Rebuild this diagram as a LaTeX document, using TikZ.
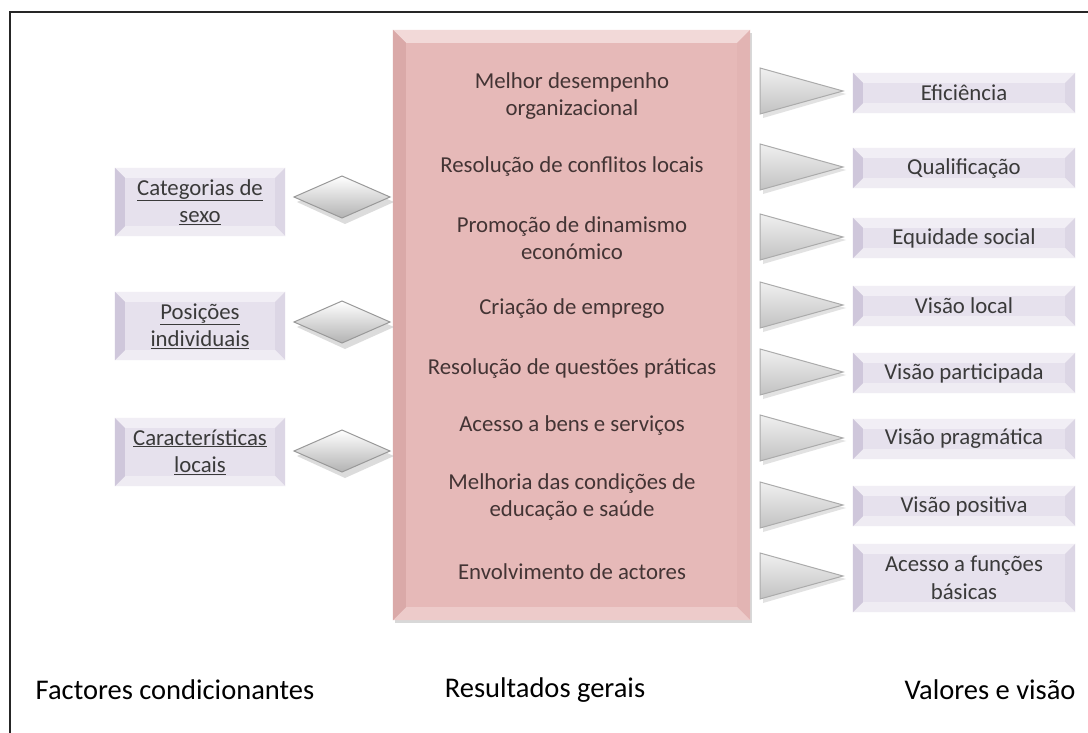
\documentclass[tikz,border=0pt]{standalone}
\usepackage{fontspec}
\setmainfont{Carlito}
\usetikzlibrary{shadows,calc}
\definecolor{pinkbase}{HTML}{E6B9B8}
\definecolor{pinktop}{HTML}{F2D9D8}
\definecolor{pinkleft}{HTML}{DAA9A8}
\definecolor{pinkright}{HTML}{E2B4B3}
\definecolor{pinkbot}{HTML}{EDCBCA}
\definecolor{lavbase}{HTML}{E6E1ED}
\definecolor{lavtop}{HTML}{F1EEF5}
\definecolor{lavleft}{HTML}{CFC7DB}
\definecolor{lavright}{HTML}{DCD6E5}
\definecolor{lavbot}{HTML}{EFECF3}
\definecolor{midtext}{HTML}{433434}
\definecolor{boxtext}{HTML}{3A3A3A}
\newcommand\bevel[6]{%
  \fill[#3] (#1.north west) -- (#1.north east) -- ([xshift=-#2pt,yshift=-#2pt]#1.north east) -- ([xshift=#2pt,yshift=-#2pt]#1.north west) -- cycle;
  \fill[#4] (#1.north east) -- (#1.south east) -- ([xshift=-#2pt,yshift=#2pt]#1.south east) -- ([xshift=-#2pt,yshift=-#2pt]#1.north east) -- cycle;
  \fill[#5] (#1.south east) -- (#1.south west) -- ([xshift=#2pt,yshift=#2pt]#1.south west) -- ([xshift=-#2pt,yshift=#2pt]#1.south east) -- cycle;
  \fill[#6] (#1.south west) -- (#1.north west) -- ([xshift=#2pt,yshift=-#2pt]#1.north west) -- ([xshift=#2pt,yshift=#2pt]#1.south west) -- cycle;
}
\newcommand\diam[1]{%
  \fill[black!30,opacity=0.45] ($(#1)+(-45,5)$) -- ($(#1)+(3,-16)$) -- ($(#1)+(52,5)$) -- ($(#1)+(3,27)$) -- cycle;
  \shade[top color=white, bottom color=black!30, draw=black!40, line width=1pt]
    ($(#1)+(-48,0)$) -- ($(#1)+(0,-21)$) -- ($(#1)+(48,0)$) -- ($(#1)+(0,21)$) -- cycle;
}
\newcommand\tri[1]{%
  \fill[black!25,opacity=0.45] ($(#1)+(-38,-20)$) -- ($(#1)+(45,3)$) -- ($(#1)+(-38,27)$) -- cycle;
  \shade[top color=black!6, bottom color=black!24, draw=black!33, line width=1pt]
    ($(#1)+(-41,-23)$) -- ($(#1)+(42,0)$) -- ($(#1)+(-41,23)$) -- cycle;
}
\begin{document}
\begin{tikzpicture}[x=1pt,y=-1pt,
  font=\fontsize{22.8}{27.5}\selectfont,
  midbox/.style={rectangle, fill=pinkbase, inner sep=0pt, minimum width=357, minimum height=590,
    drop shadow={shadow xshift=2pt, shadow yshift=-3pt, opacity=0.3}},
  lbox/.style={rectangle, fill=lavbase, inner sep=0pt, minimum width=170, minimum height=68},
  rbox/.style={rectangle, fill=lavbase, inner sep=0pt, minimum width=222, minimum height=40},
  midtxt/.style={align=center, text=midtext, inner sep=0pt},
  boxtxt/.style={align=center, text=boxtext, inner sep=0pt},
  bottom/.style={font=\fontsize{28.5}{33}\selectfont, text=black, inner sep=0pt}]
\useasboundingbox (0,0) rectangle (1088,733);
\fill[white] (0,0) rectangle (1088,733);
\draw[line width=2pt, black!85] (10,733) -- (10,12) -- (1088,12);

% central box
\node[midbox] (mid) at (571.5,325) {};
\bevel{mid}{13}{pinktop}{pinkright}{pinkbot}{pinkleft}
\node[midtxt] (m1) at (572,96) {Melhor desempenho\\organizacional};
\node[midtxt] (m2) at (572,167) {Resolução de conflitos locais};
\node[midtxt] (m3) at (572,238) {Promoção de dinamismo\\económico};
\node[midtxt] (m4) at (572,309) {Criação de emprego};
\node[midtxt] (m5) at (572,368) {Resolução de questões práticas};
\node[midtxt] (m6) at (572,425) {Acesso a bens e serviços};
\node[midtxt] (m7) at (572,497) {Melhoria das condições de\\educação e saúde};
\node[midtxt] (m8) at (572,572) {Envolvimento de actores};

% left boxes
\foreach \n/\y in {l1/202, l2/326, l3/452}{
  \node[lbox] (\n) at (200,\y) {};
  \bevel{\n}{10}{lavtop}{lavright}{lavbot}{lavleft}
}
\node[boxtxt] (lt1) at (l1) {\underline{Categorias de}\\\underline{sexo}};
\node[boxtxt] (lt2) at (l2) {\underline{Posições}\\\underline{individuais}};
\node[boxtxt] (lt3) at (l3) {\underline{Características}\\\underline{locais}};

% diamonds
\coordinate (d1) at (342,197);
\coordinate (d2) at (342,322);
\coordinate (d3) at (342,451);
\diam{d1}\diam{d2}\diam{d3}

% right boxes
\foreach \n/\y in {r1/93, r2/168, r3/238, r4/306, r5/373, r6/439, r7/506}{
  \node[rbox] (\n) at (964,\y) {};
  \bevel{\n}{10}{lavtop}{lavright}{lavbot}{lavleft}
}
\node[rbox, minimum height=68] (r8) at (964,578) {};
\bevel{r8}{10}{lavtop}{lavright}{lavbot}{lavleft}
\node[boxtxt] (rt1) at (r1) {Eficiência};
\node[boxtxt] (rt2) at (r2) {Qualificação};
\node[boxtxt] (rt3) at (r3) {Equidade social};
\node[boxtxt] (rt4) at (r4) {Visão local};
\node[boxtxt] (rt5) at (r5) {Visão participada};
\node[boxtxt] (rt6) at (r6) {Visão pragmática};
\node[boxtxt] (rt7) at (r7) {Visão positiva};
\node[boxtxt] (rt8) at (r8) {Acesso a funções\\básicas};

% triangles
\foreach \y [count=\i] in {91,167,237,305,372,438,505,576}{
  \coordinate (t\i) at (801,\y);
  \tri{t\i}
}

% bottom labels
\node[bottom] (b1) at (175,690) {Factores condicionantes};
\node[bottom] (b2) at (545,690) {Resultados gerais};
\node[bottom] (b3) at (990,690) {Valores e visão};
\end{tikzpicture}
\end{document}
